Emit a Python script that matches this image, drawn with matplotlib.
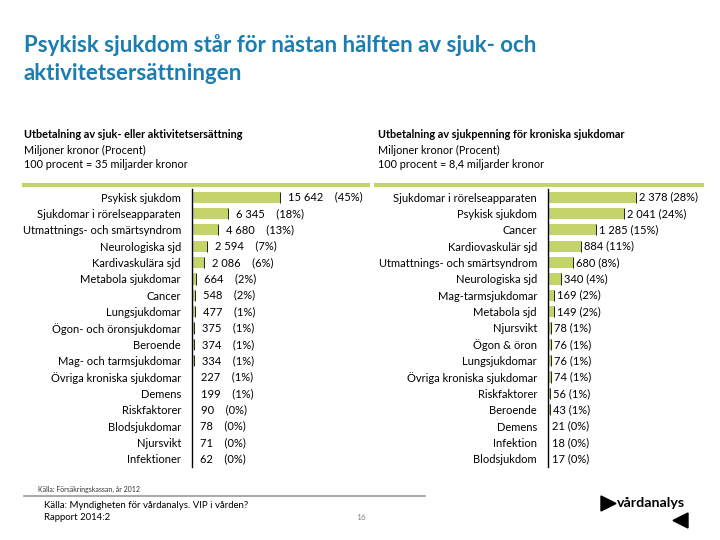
import matplotlib
matplotlib.use("Agg")
import matplotlib.pyplot as plt
from matplotlib.patches import Polygon
from matplotlib.lines import Line2D

# ---------------------------------------------------------------------------
# Data
# ---------------------------------------------------------------------------

left_labels = ["Psykisk sjukdom", "Sjukdomar i rörelseapparaten",
               "Utmattnings- och smärtsyndrom", "Neurologiska sjd",
               "Kardivaskulära sjd", "Metabola sjukdomar", "Cancer",
               "Lungsjukdomar", "Ögon- och öronsjukdomar", "Beroende",
               "Mag- och tarmsjukdomar", "Övriga kroniska sjukdomar", "Demens",
               "Riskfaktorer", "Blodsjukdomar", "Njursvikt", "Infektioner"]
left_values = [15642, 6345, 4680, 2594, 2086, 664, 548, 477, 375, 374,
               334, 227, 199, 90, 78, 71, 62]
left_pct = [45, 18, 13, 7, 6, 2, 2, 1, 1, 1, 1, 1, 1, 0, 0, 0, 0]

right_labels = ["Sjukdomar i rörelseapparaten", "Psykisk sjukdom", "Cancer",
                "Kardiovaskulär sjd", "Utmattnings- och smärtsyndrom",
                "Neurologiska sjd", "Mag-tarmsjukdomar", "Metabola sjd",
                "Njursvikt", "Ögon & öron", "Lungsjukdomar",
                "Övriga kroniska sjukdomar", "Riskfaktorer", "Beroende",
                "Demens", "Infektion", "Blodsjukdom"]
right_values = [2378, 2041, 1285, 884, 680, 340, 169, 149, 78, 76, 76,
                74, 56, 43, 21, 18, 17]
right_pct = [28, 24, 15, 11, 8, 4, 2, 2, 1, 1, 1, 1, 1, 1, 0, 0, 0]

W, H = 720, 540
GREEN = "#C4D46A"
BLUE = "#1B7DB0"
plt.rcParams["font.family"] = ["Lato", "DejaVu Sans"]


def fx(x):
    return x / W


def fy(y):
    return 1 - y / H


def fmt(v):
    return f"{v:,}".replace(",", " ")


def draw_panel(fig, x0, width, labels, values, pct, px_for_max, gap, off_px):
    top, bottom = 189, 467
    ax = fig.add_axes([fx(x0), fy(bottom), width / W, (bottom - top) / H])
    n = len(values)
    ypos = list(range(n))
    xmax = max(values) * width / px_for_max
    ax.barh(ypos, values, height=0.68, color=GREEN, edgecolor="none")
    # dark right edge like the original (only where the bar is visible)
    edge = [(v, y) for v, y in zip(values, ypos) if v / xmax * width >= 1.5]
    ax.vlines([e[0] for e in edge], [e[1] - 0.34 for e in edge],
              [e[1] + 0.34 for e in edge], color="#222222", lw=0.7)
    ax.set_xlim(0, xmax)
    ax.set_ylim(n - 0.5, -0.5)
    for s in ["top", "right", "bottom"]:
        ax.spines[s].set_visible(False)
    ax.spines["left"].set_linewidth(1.0)
    ax.set_xticks([])
    ax.set_yticks(ypos)
    ax.set_yticklabels(labels, fontsize=8)
    ax.tick_params(axis="y", length=0, pad=8)
    off = xmax * off_px / width
    for y, v, p in zip(ypos, values, pct):
        ax.text(v + off, y, f"{fmt(v)}{gap}({p}%)", va="center", ha="left",
                fontsize=8)
    return ax


fig = plt.figure(figsize=(7.2, 5.4), dpi=100)

# title
fig.text(fx(24), fy(45), "Psykisk sjukdom står för nästan hälften av sjuk- och",
         color=BLUE, fontsize=16, fontweight="bold", va="center")
fig.text(fx(24), fy(74), "aktivitetsersättningen",
         color=BLUE, fontsize=16, fontweight="bold", va="center")

# panel headers
for x, lines in [(24, ["Utbetalning av sjuk- eller aktivitetsersättning",
                       "Miljoner kronor (Procent)",
                       "100 procent = 35 miljarder kronor"]),
                 (378, ["Utbetalning av sjukpenning för kroniska sjukdomar",
                        "Miljoner kronor (Procent)",
                        "100 procent = 8,4 miljarder kronor"])]:
    for i, t in enumerate(lines):
        fig.text(fx(x), fy(135 + i * 15), t, fontsize=7.8, va="center",
                 fontweight="bold" if i == 0 else "normal")

fig.add_artist(Line2D([fx(24), fx(368)], [fy(185), fy(185)], color=GREEN, lw=3))
fig.add_artist(Line2D([fx(376), fx(702)], [fy(185), fy(185)], color=GREEN, lw=3))

draw_panel(fig, 192, 170, left_labels, left_values, left_pct, 88, "    ", 8)
draw_panel(fig, 548, 150, right_labels, right_values, right_pct, 88, " ", 3)

# footer
fig.text(fx(38), fy(489), "Källa: Försäkringskassan, år 2012", fontsize=5.0,
         va="center", color="#333333")
fig.add_artist(Line2D([fx(24), fx(425)], [fy(496), fy(496)], color="#999999", lw=1.2))
fig.text(fx(44), fy(505), "Källa: Myndigheten för vårdanalys. VIP i vården?",
         fontsize=6.9, va="center")
fig.text(fx(44), fy(518), "Rapport 2014:2", fontsize=6.9, va="center")
fig.text(fx(361), fy(517), "16", fontsize=6, va="center", ha="center", color="#888888")

# logo
fig.add_artist(Polygon([[fx(601), fy(496)], [fx(601), fy(511)], [fx(616), fy(503.5)]],
                       closed=True, color="black", transform=fig.transFigure))
fig.add_artist(Polygon([[fx(688), fy(513)], [fx(688), fy(528)], [fx(673), fy(520.5)]],
                       closed=True, color="black", transform=fig.transFigure))
fig.text(fx(617), fy(503), "vårdanalys", fontsize=10.3, fontweight="bold", va="center")

fig.savefig("out.png", dpi=100)
